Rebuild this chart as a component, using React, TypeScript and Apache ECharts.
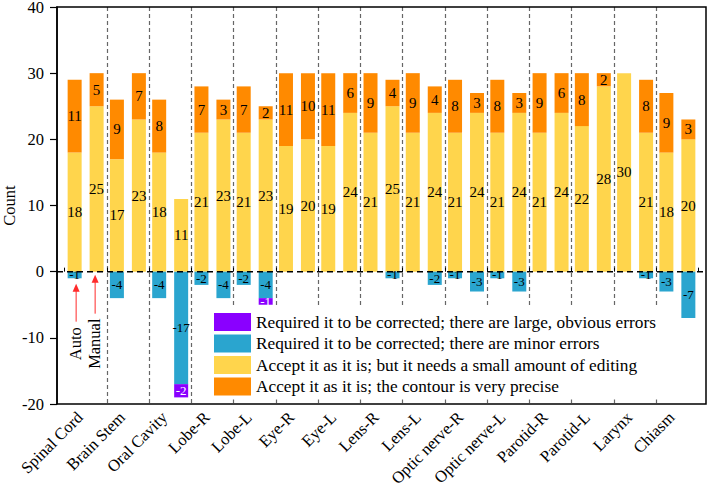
import React, { useEffect, useRef } from "react";
import * as echarts from "echarts";

const categories = [
  "Spinal Cord", "Brain Stem", "Oral Cavity", "Lobe-R", "Lobe-L", "Eye-R", "Eye-L",
  "Lens-R", "Lens-L", "Optic nerve-R", "Optic nerve-L", "Parotid-R", "Parotid-L", "Larynx", "Chiasm",
];

// Auto contours
const autoEdit = [18, 17, 18, 21, 21, 19, 19, 21, 21, 21, 21, 21, 22, 30, 18];
const autoPrecise = [11, 9, 8, 7, 7, 11, 11, 9, 9, 8, 8, 9, 8, 0, 9];
const autoMinor = [-1, -4, -4, -2, -2, 0, 0, 0, 0, -1, -1, 0, 0, 0, -3];
const autoMajor = [0, 0, 0, 0, 0, 0, 0, 0, 0, 0, 0, 0, 0, 0, 0];

// Manual contours
const manualEdit = [25, 23, 11, 23, 23, 20, 24, 25, 24, 24, 24, 24, 28, 21, 20];
const manualPrecise = [5, 7, 0, 3, 2, 10, 6, 4, 4, 3, 3, 6, 2, 8, 3];
const manualMinor = [0, 0, -17, -4, -4, 0, 0, -1, -2, -3, -3, 0, 0, -1, -7];
const manualMajor = [0, 0, -2, 0, -1, 0, 0, 0, 0, 0, 0, 0, 0, 0, 0];

const yTicks = { min: -20, max: 40, interval: 10 };

const NAME_MAJOR = "Required it to be corrected; there are large, obvious errors";
const NAME_MINOR = "Required it to be corrected; there are minor errors";
const NAME_EDIT = "Accept it as it is; but it needs a small amount of editing";
const NAME_PRECISE = "Accept it as it is; the contour is very precise";

const C_MAJOR = "#8A00FF";
const C_MINOR = "#2AA5CF";
const C_EDIT = "#FFD54C";
const C_PRECISE = "#FF8A00";

const FONT = "Liberation Serif";

export default function App() {
  const ref = useRef<HTMLDivElement>(null);

  useEffect(() => {
    if (!ref.current) return;
    const chart = echarts.init(ref.current, undefined, { renderer: "svg" });

    const W = 708;
    const H = 485;
    const frameL = 57;
    const frameR = 706;
    const gridTop = 7;
    const gridBottom = 81;
    const pad = 7.5;

    const fmt = (p: any) => (p.value === 0 ? "" : String(p.value));

    const mk = (name: string, stack: string, data: number[], color: string, neg: boolean, labelColor = "#000") => ({
      type: "bar",
      name,
      stack,
      data,
      xAxisIndex: 1,
      yAxisIndex: 1,
      barWidth: 14,
      barGap: "57%",
      itemStyle: { color },
      label: {
        show: true,
        position: "inside",
        formatter: fmt,
        color: labelColor,
        fontFamily: FONT,
        fontSize: neg ? 13 : 15,
      },
      emphasis: { disabled: true },
    });

    chart.setOption({
      animation: false,
      backgroundColor: "#fff",
      textStyle: { fontFamily: FONT },
      grid: [
        { left: frameL, right: W - frameR, top: gridTop, bottom: gridBottom, outerBoundsMode: "none", containLabel: false },
        { left: frameL + pad, right: W - frameR + pad, top: gridTop, bottom: gridBottom, outerBoundsMode: "none", containLabel: false },
      ],
      legend: {
        orient: "vertical",
        left: 209,
        top: 308,
        padding: [5, 6, 4, 5],
        backgroundColor: "#fff",
        itemWidth: 37,
        itemHeight: 18,
        itemGap: 3.5,
        icon: "rect",
        data: [NAME_MAJOR, NAME_MINOR, NAME_EDIT, NAME_PRECISE],
        textStyle: { fontFamily: FONT, fontSize: 17.3, color: "#000" },
        selectedMode: false,
        z: 50,
      },
      xAxis: [
        { gridIndex: 0, type: "value", min: 0, max: 1, show: false },
        {
          gridIndex: 1,
          type: "category",
          data: categories,
          boundaryGap: true,
          axisLine: { show: false },
          axisTick: { show: true, inside: true, length: 4, interval: 0, lineStyle: { color: "#000" } },
          splitLine: {
            show: true,
            interval: 0,
            showMinLine: false,
            showMaxLine: false,
            lineStyle: { color: "#666", type: [4, 3], width: 1.2 },
          },
          axisLabel: {
            interval: 0,
            rotate: 45,
            margin: 5,
            padding: [0, 8, 16, 0],
            fontFamily: FONT,
            fontSize: 16.5,
            color: "#000",
            hideOverlap: false,
          },
        },
      ],
      yAxis: [
        {
          gridIndex: 0,
          type: "value",
          min: yTicks.min,
          max: yTicks.max,
          interval: yTicks.interval,
          name: "Count",
          nameLocation: "middle",
          nameGap: 39,
          nameMoveOverlap: false,
          nameTextStyle: { fontFamily: FONT, fontSize: 16.5, color: "#000" },
          axisLine: { show: true, lineStyle: { color: "#000", width: 1.5 } },
          axisTick: { show: true, inside: false, length: 7, lineStyle: { color: "#000", width: 1.2 } },
          axisLabel: { fontFamily: FONT, fontSize: 16.5, color: "#000", margin: 13 },
          splitLine: { show: false },
        },
        {
          gridIndex: 1,
          type: "value",
          min: yTicks.min,
          max: yTicks.max,
          interval: yTicks.interval,
          show: false,
          splitLine: { show: false },
        },
      ],
      series: [
        mk(NAME_EDIT, "auto", autoEdit, C_EDIT, false),
        mk(NAME_PRECISE, "auto", autoPrecise, C_PRECISE, false),
        mk(NAME_MINOR, "auto", autoMinor, C_MINOR, true),
        mk(NAME_MAJOR, "auto", autoMajor, C_MAJOR, true, "#fff"),
        mk(NAME_EDIT, "manual", manualEdit, C_EDIT, false),
        mk(NAME_PRECISE, "manual", manualPrecise, C_PRECISE, false),
        mk(NAME_MINOR, "manual", manualMinor, C_MINOR, true),
        mk(NAME_MAJOR, "manual", manualMajor, C_MAJOR, true, "#fff"),
      ],
    });

    const y0 = chart.convertToPixel({ yAxisIndex: 1 }, 0) as number;
    const x0 = chart.convertToPixel({ xAxisIndex: 1 }, categories[0]) as number;
    const autoX = x0 - 9.5;
    const manualX = x0 + 9.5;
    const red = "#FF2A2A";

    chart.setOption({
      graphic: [
        {
          type: "rect",
          silent: true,
          z: 100,
          shape: { x: frameL, y: gridTop, width: frameR - frameL, height: H - gridBottom - gridTop },
          style: { fill: "none", stroke: "#000", lineWidth: 1.5 },
        },
        {
          type: "line",
          silent: true,
          z: 100,
          shape: { x1: frameL, y1: y0, x2: frameR, y2: y0 },
          style: { stroke: "#000", lineWidth: 1.5, lineDash: [6, 4] },
        },
        {
          type: "line",
          silent: true,
          z: 100,
          shape: { x1: autoX, y1: y0 + 50, x2: autoX, y2: y0 + 18 },
          style: { stroke: red, lineWidth: 1 },
        },
        {
          type: "polygon",
          silent: true,
          z: 100,
          shape: { points: [[autoX, y0 + 12], [autoX - 3.5, y0 + 20], [autoX + 3.5, y0 + 20]] },
          style: { fill: red },
        },
        {
          type: "line",
          silent: true,
          z: 100,
          shape: { x1: manualX, y1: y0 + 42, x2: manualX, y2: y0 + 8 },
          style: { stroke: red, lineWidth: 1 },
        },
        {
          type: "polygon",
          silent: true,
          z: 100,
          shape: { points: [[manualX, y0 + 3], [manualX - 3.5, y0 + 11], [manualX + 3.5, y0 + 11]] },
          style: { fill: red },
        },
        {
          type: "text",
          silent: true,
          z: 100,
          x: autoX - 1,
          y: y0 + 72,
          rotation: Math.PI / 2,
          style: {
            text: "Auto",
            fontFamily: FONT,
            fontSize: 16.5,
            fill: "#000",
            align: "center",
            verticalAlign: "middle",
          },
        },
        {
          type: "text",
          silent: true,
          z: 100,
          x: manualX - 1,
          y: y0 + 72,
          rotation: Math.PI / 2,
          style: {
            text: "Manual",
            fontFamily: FONT,
            fontSize: 16.5,
            fill: "#000",
            align: "center",
            verticalAlign: "middle",
          },
        },
      ],
    });

    return () => chart.dispose();
  }, []);

  return <div ref={ref} style={{ width: 708, height: 485, position: "absolute", left: 0, top: 0 }} />;
}
